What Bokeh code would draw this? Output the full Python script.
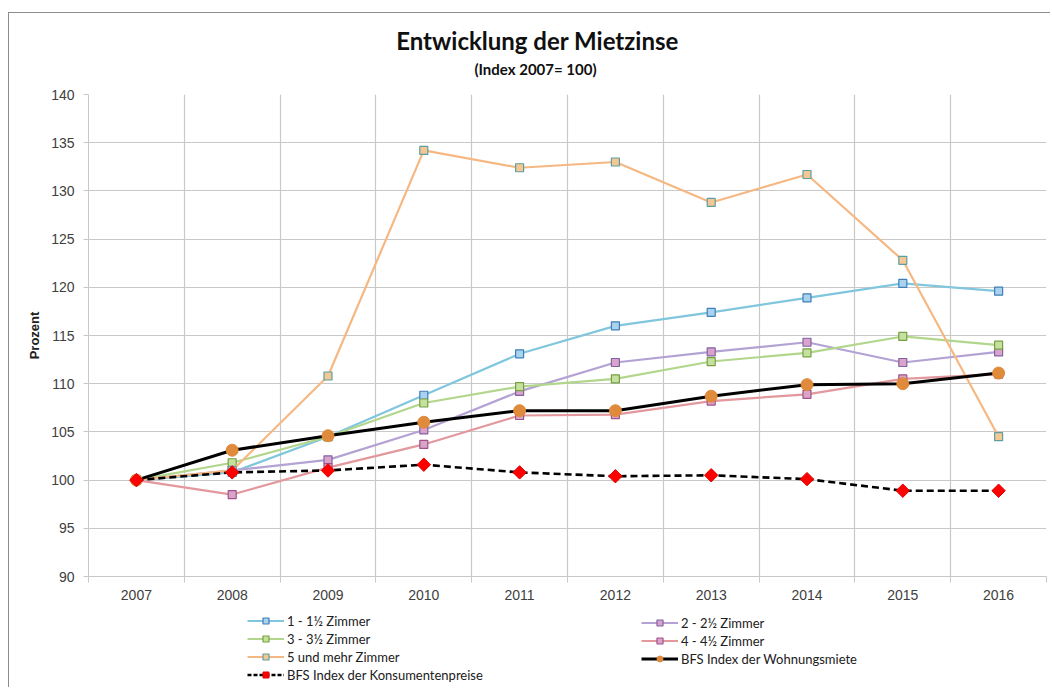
from bokeh.plotting import figure
from bokeh.layouts import column
from bokeh.models import (FixedTicker, Legend, LegendItem, Label, Range1d)
from bokeh.embed import file_html
from bokeh.resources import INLINE
import math

years = [2007, 2008, 2009, 2010, 2011, 2012, 2013, 2014, 2015, 2016]
zimmer_1 = [100.0, 100.8, 104.5, 108.8, 113.1, 116.0, 117.4, 118.9, 120.4, 119.6]
zimmer_2 = [100.0, 101.0, 102.1, 105.2, 109.2, 112.2, 113.3, 114.3, 112.2, 113.3]
zimmer_3 = [100.0, 101.8, 104.5, 108.0, 109.7, 110.5, 112.3, 113.2, 114.9, 114.0]
zimmer_4 = [100.0, 98.5, 101.3, 103.7, 106.7, 106.8, 108.2, 108.9, 110.5, 111.0]
zimmer_5 = [100.0, 101.0, 110.8, 134.2, 132.4, 133.0, 128.8, 131.7, 122.8, 104.5]
bfs_miete = [100.0, 103.1, 104.6, 106.0, 107.2, 107.2, 108.7, 109.9, 110.0, 111.1]
bfs_lik = [100.0, 100.8, 101.0, 101.6, 100.8, 100.4, 100.5, 100.1, 98.9, 98.9]

labels = ["1 - 1\u00bd Zimmer", "2 - 2\u00bd Zimmer", "3 - 3\u00bd Zimmer", "4 - 4\u00bd Zimmer",
          "5 und mehr Zimmer", "BFS Index der Wohnungsmiete", "BFS Index der Konsumentenpreise"]
y_ticks = [90, 95, 100, 105, 110, 115, 120, 125, 130, 135, 140]
title_text = "Entwicklung der Mietzinse"
subtitle_text = "(Index 2007= 100)"

TICK_FONT = "Liberation Sans"
LEG_FONT = "Lato"
BORDER = "1px solid #8c8c8c"


def blank_figure(height, margin, styles):
    f = figure(width=1042, height=height, output_backend="svg", toolbar_location=None,
               x_range=Range1d(0, 1), y_range=Range1d(0, 1),
               x_axis_location=None, y_axis_location=None,
               min_border=0, min_border_left=0, min_border_right=0,
               min_border_top=0, min_border_bottom=0,
               margin=margin, styles=styles)
    f.grid.visible = False
    f.outline_line_color = None
    f.title.visible = False
    f.background_fill_color = "white"
    f.border_fill_color = "white"
    return f


# title area
pt = blank_figure(72, (12, 0, 0, 8), {"border-top": BORDER, "border-left": BORDER})
pt.add_layout(Label(x=449, y=45, x_units="screen", y_units="screen", text=title_text,
                    text_font=LEG_FONT, text_font_size="24px", text_font_style="bold",
                    text_align="center", text_baseline="middle", text_color="#101010"))
pt.add_layout(Label(x=447, y=17, x_units="screen", y_units="screen", text=subtitle_text,
                    text_font=LEG_FONT, text_font_size="15px", text_font_style="bold",
                    text_align="center", text_baseline="middle", text_color="#101010"))

# main chart
p = figure(width=1042, height=525, output_backend="svg", toolbar_location=None,
           x_range=Range1d(2006.5, 2016.5), y_range=Range1d(90, 140),
           min_border_left=79, min_border_top=10, min_border_bottom=33, min_border_right=5,
           margin=(0, 0, 0, 8), styles={"border-left": BORDER})
p.title.visible = False
p.outline_line_color = None
p.background_fill_color = "white"
p.border_fill_color = "white"

p.xaxis.ticker = FixedTicker(ticks=years, minor_ticks=[y - 0.5 for y in years] + [2016.5])
p.xaxis.major_tick_out = 0
p.xaxis.major_tick_in = 0
p.xaxis.minor_tick_out = 6
p.xaxis.minor_tick_in = 0
p.xaxis.minor_tick_line_color = "#c8c8c8"
p.xaxis.axis_line_color = "#c8c8c8"
p.xaxis.major_label_standoff = 7
p.xaxis.major_label_text_font = TICK_FONT
p.xaxis.major_label_text_font_size = "14px"
p.xaxis.major_label_text_color = "#404040"

p.yaxis.ticker = FixedTicker(ticks=y_ticks)
p.yaxis.major_tick_out = 5
p.yaxis.major_tick_in = 0
p.yaxis.minor_tick_line_color = None
p.yaxis.major_tick_line_color = "#c8c8c8"
p.yaxis.axis_line_color = "#c8c8c8"
p.yaxis.major_label_standoff = 9
p.yaxis.major_label_text_font = TICK_FONT
p.yaxis.major_label_text_font_size = "14px"
p.yaxis.major_label_text_color = "#404040"
p.yaxis.axis_label = "Prozent"
p.yaxis.axis_label_text_font = TICK_FONT
p.yaxis.axis_label_text_font_size = "13px"
p.yaxis.axis_label_text_font_style = "bold"
p.yaxis.axis_label_text_color = "#202020"
p.yaxis.axis_label_standoff = 6

p.xgrid.ticker = FixedTicker(ticks=[y - 0.5 for y in years] + [2016.5])
p.ygrid.ticker = FixedTicker(ticks=y_ticks)
p.xgrid.grid_line_color = "#c8c8c8"
p.ygrid.grid_line_color = "#c8c8c8"
p.xgrid.grid_line_width = 1.2
p.ygrid.grid_line_width = 1.2

# series styles: line colour, marker fill, marker edge
styles = [
    ("#80c6dc", "#a9d2ee", "#3f7fb8"),
    ("#b3a2d3", "#d9a3cc", "#8064a2"),
    ("#b2d68c", "#c6e0a0", "#77a040"),
    ("#e2989c", "#d8a4c8", "#a0528a"),
    ("#f6b882", "#f3c895", "#5f9ea0"),
]
room_series = [zimmer_1, zimmer_2, zimmer_3, zimmer_4, zimmer_5]
for vals, (lc, fc, ec) in zip(room_series, styles):
    p.line(years, vals, line_color=lc, line_width=2.2)
    p.scatter(years, vals, marker="square", size=8, fill_color=fc, line_color=ec, line_width=1.2)

p.line(years, bfs_miete, line_color="black", line_width=3)
p.scatter(years, bfs_miete, marker="circle", size=12, fill_color="#e08a3c", line_color="#e08a3c")
p.line(years, bfs_lik, line_color="black", line_width=2.6, line_dash="7 4")
p.scatter(years, bfs_lik, marker="square", angle=math.pi / 4, size=9.5,
          fill_color="#ff0000", line_color="#e00000")

# legend area (its glyphs use the same series, outside its empty visible range)
p2 = blank_figure(78, (0, 0, 0, 8), {"border-left": BORDER})
leg_r = []
for vals, (lc, fc, ec) in zip(room_series, styles):
    l = p2.line(years, vals, line_color=lc, line_width=2.2)
    s = p2.scatter(years, vals, marker="square", size=8, fill_color=fc, line_color=ec, line_width=1.2)
    leg_r.append([l, s])
l = p2.line(years, bfs_miete, line_color="black", line_width=3)
s = p2.scatter(years, bfs_miete, marker="circle", size=9, fill_color="#e08a3c", line_color="#e08a3c")
leg_r.append([l, s])
l = p2.line(years, bfs_lik, line_color="black", line_width=2.6, line_dash="4 2")
s = p2.scatter(years, bfs_lik, marker="square", angle=math.pi / 4, size=7,
               fill_color="#ff0000", line_color="#e00000")
leg_r.append([l, s])


def make_legend(idx, x, y):
    leg = Legend(items=[LegendItem(label=labels[i], renderers=leg_r[i]) for i in idx],
                 location=(x, y), orientation="vertical",
                 background_fill_alpha=0, border_line_color=None,
                 label_text_font=LEG_FONT, label_text_font_size="13px", label_text_color="#202020",
                 glyph_width=37, glyph_height=15, label_height=15, label_standoff=3,
                 spacing=2, padding=0, margin=0)
    p2.add_layout(leg, "center")


make_legend([0, 2, 4, 6], 159, 4.5)
make_legend([1, 3, 5], 553, 20.5)

layout = column(pt, p, p2, spacing=0)
open("out.html", "w").write(file_html(layout, INLINE))
